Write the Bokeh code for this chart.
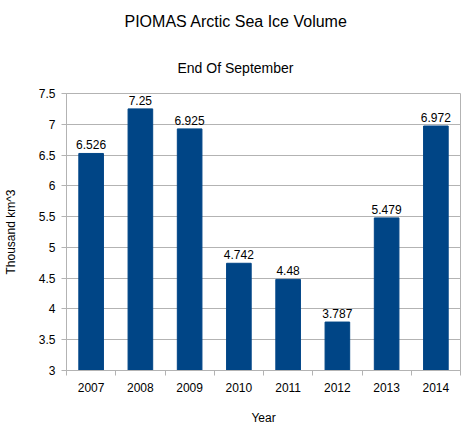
from bokeh.plotting import figure
from bokeh.models import ColumnDataSource, FixedTicker, Title, Range1d, LabelSet
from bokeh.core.properties import value
from bokeh.embed import file_html
from bokeh.resources import INLINE

years = ["2007", "2008", "2009", "2010", "2011", "2012", "2013", "2014"]
volumes = [6.526, 7.25, 6.925, 4.742, 4.48, 3.787, 5.479, 6.972]
y_ticks = [3, 3.5, 4, 4.5, 5, 5.5, 6, 6.5, 7, 7.5]
y_tick_labels = ["3", "3.5", "4", "4.5", "5", "5.5", "6", "6.5", "7", "7.5"]

FONT = "Liberation Sans"
BAR = "#004586"
GRID = "#b3b3b3"

xs = [i + 0.5 for i in range(len(years))]
src = ColumnDataSource(dict(x=xs, top=volumes, label=[str(v) for v in volumes]))

p = figure(frame_width=394, frame_height=277, output_backend="svg", toolbar_location=None,
           x_range=Range1d(0, len(years)), y_range=Range1d(3, 7.5), title=None,
           min_border_left=58, min_border_right=5, min_border_top=0, min_border_bottom=0)

p.vbar(x="x", top="top", bottom=3, width=0.5, source=src, fill_color=BAR, line_color=BAR)
p.add_layout(LabelSet(x="x", y="top", text="label", source=src, text_align="center",
                      text_baseline="bottom", y_offset=4, text_font=value(FONT),
                      text_font_size=value("12px"), text_color="#000000"))

sub = Title(text="End Of September", align="left", text_font=FONT, text_font_size="14px",
            text_font_style="normal", text_color="#000000", standoff=36, offset=111)
p.add_layout(sub, "above")
main = Title(text="PIOMAS Arctic Sea Ice Volume", align="left", text_font=FONT,
             text_font_size="16px", text_font_style="normal", text_color="#000000",
             standoff=20, offset=58)
p.add_layout(main, "above")

# x axis: labels at bar centres, ticks at category boundaries
xa = p.xaxis[0]
xa.ticker = FixedTicker(ticks=xs, minor_ticks=list(range(len(years) + 1)))
xa.major_label_overrides = {x: y for x, y in zip(xs, years)}
xa.major_tick_line_color = None
xa.minor_tick_line_color = GRID
xa.minor_tick_out = 5
xa.minor_tick_in = 0
xa.major_label_standoff = 6
xa.axis_label = "Year"
xa.axis_label_standoff = 16
xa.axis_line_color = GRID

ya = p.yaxis[0]
ya.ticker = FixedTicker(ticks=y_ticks)
ya.major_label_overrides = {t: l for t, l in zip(y_ticks, y_tick_labels)}
ya.major_tick_line_color = GRID
ya.major_tick_out = 5
ya.major_tick_in = 0
ya.minor_tick_line_color = None
ya.axis_line_color = GRID
ya.axis_label = "Thousand km^3"
ya.axis_label_standoff = 18
ya.major_label_standoff = 6

for ax in (xa, ya):
    ax.major_label_text_font = FONT
    ax.major_label_text_font_size = "12px"
    ax.major_label_text_color = "#000000"
    ax.axis_label_text_font = FONT
    ax.axis_label_text_font_size = "12px"
    ax.axis_label_text_font_style = "normal"
    ax.axis_label_text_color = "#000000"

p.xgrid.grid_line_color = None
p.ygrid.grid_line_color = GRID
p.ygrid.ticker = FixedTicker(ticks=y_ticks)
p.outline_line_color = GRID
p.background_fill_color = "white"
p.border_fill_color = "white"

open("out.html", "w").write(file_html(p, INLINE))
